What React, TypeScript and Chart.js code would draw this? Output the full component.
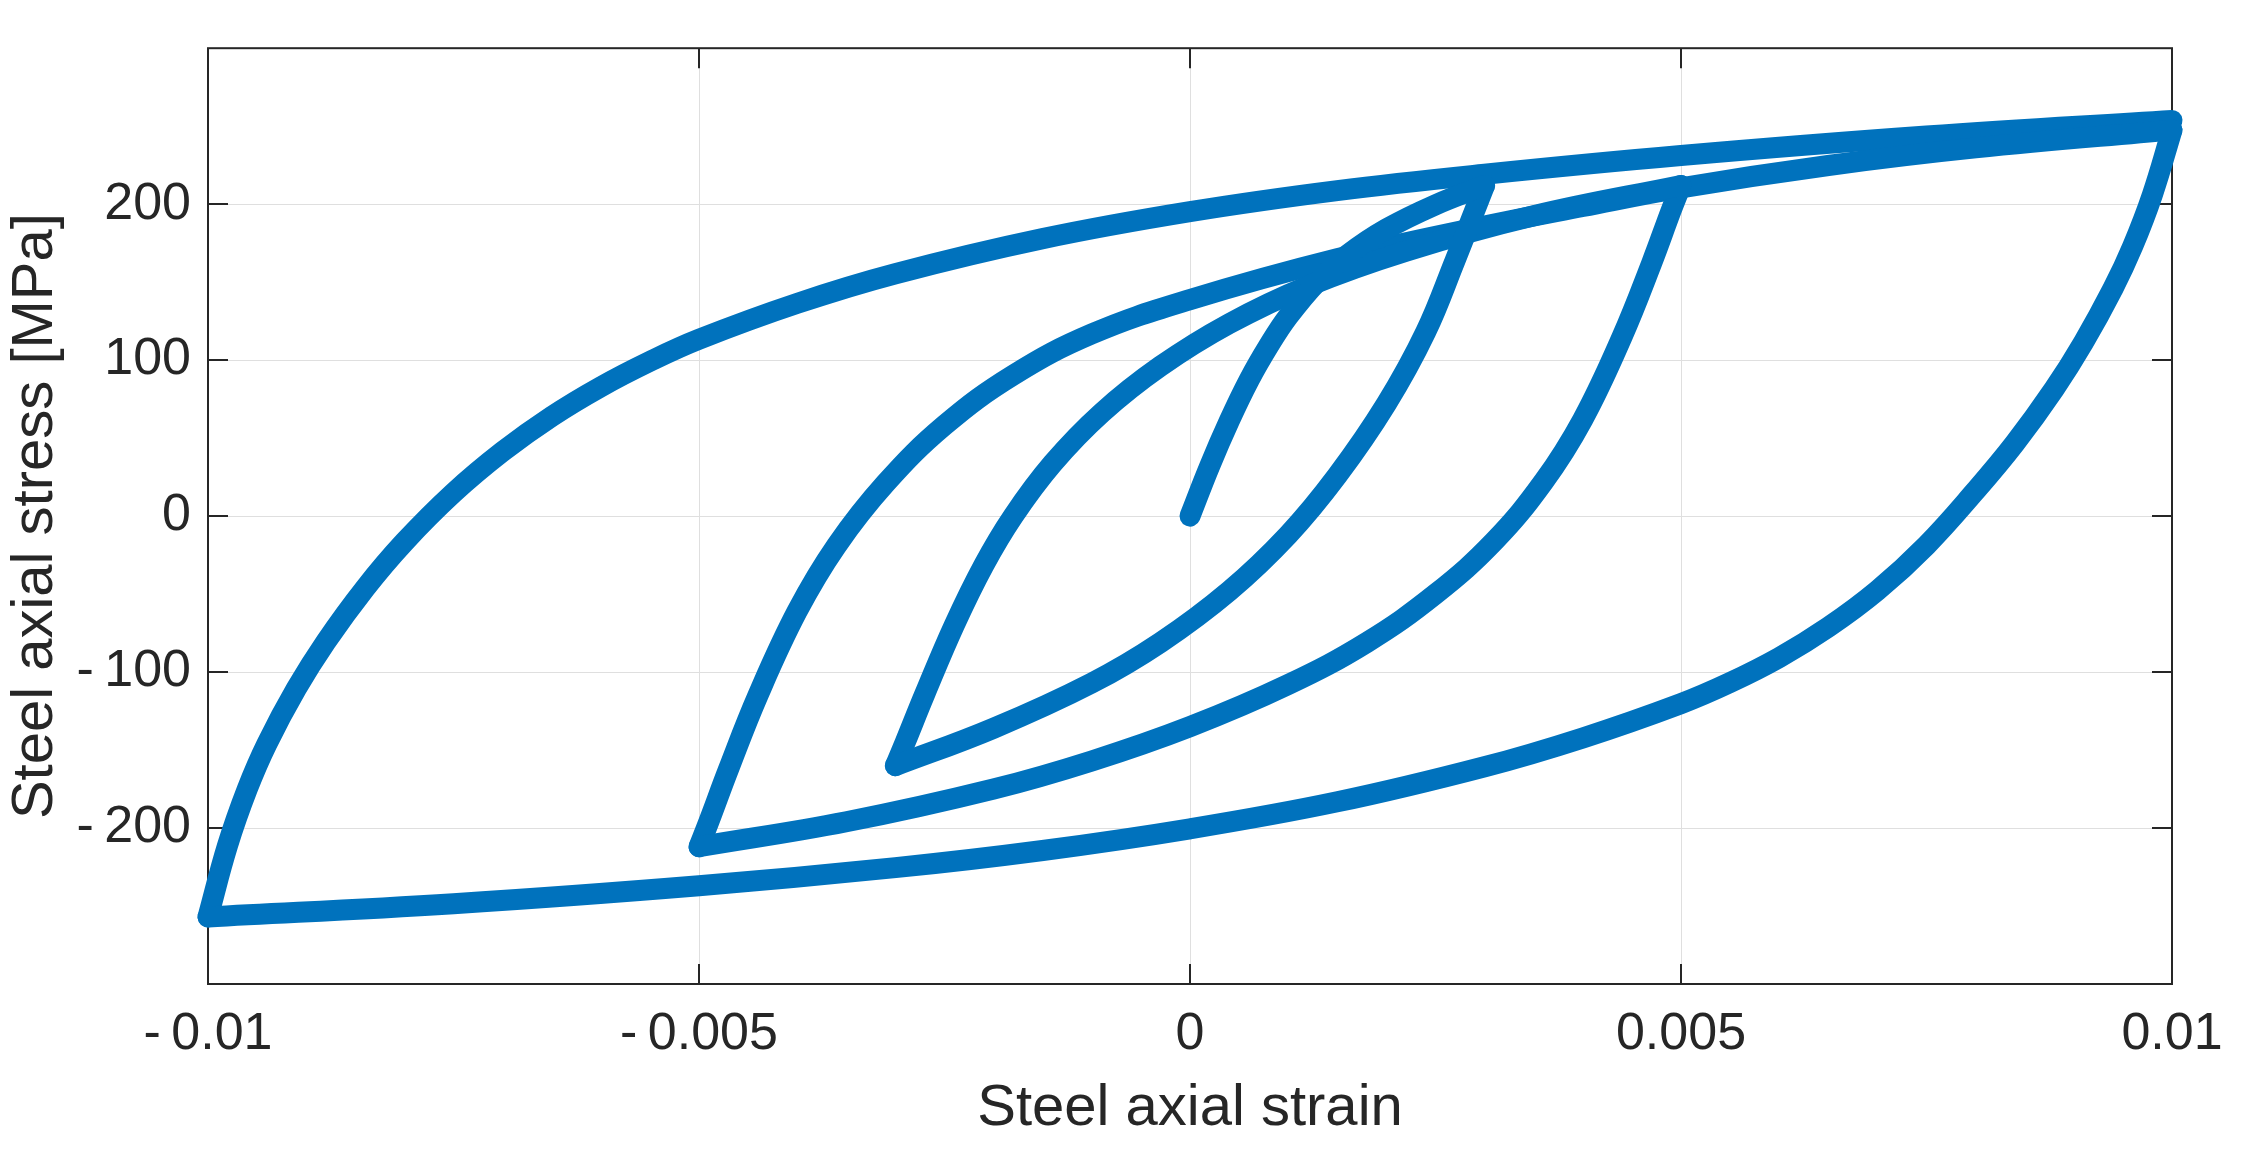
import React, { useEffect, useRef } from "react";
import { Chart, registerables } from "chart.js";

Chart.register(...registerables);

// ---- Data (strain [-], stress [MPa]) ----
// A: virgin loading 0 -> 0.003
const A_STRAIN = [0, 0.0002, 0.0004, 0.0006, 0.0008, 0.001, 0.0013, 0.0016, 0.002, 0.0025, 0.003];
const A_STRESS = [0, 32, 61, 87, 109, 128, 150.5, 167.3, 184.1, 199.6, 212];

// B: unloading 0.003 -> -0.003
const B_STRAIN = [0.003, 0.0029, 0.0027, 0.0024, 0.002, 0.0015, 0.001, 0.0004, -0.0003, -0.001, -0.002, -0.003];
const B_STRESS = [212, 196, 164, 118, 72, 26, -12, -48, -81, -107, -136, -160];

// C: reloading -0.003 -> 0.005
const C_STRAIN = [-0.003, -0.0029, -0.0027, -0.0024, -0.0021, -0.0018, -0.0014, -0.0009, -0.0003, 0.0004, 0.0012, 0.0022, 0.0035, 0.005];
const C_STRESS = [-160, -145, -114, -69.9, -31.5, 0, 33.6, 66.1, 96.1, 123.4, 147.4, 169.9, 192.6, 212];

// D: unloading 0.005 -> -0.005
const D_STRAIN = [0.005, 0.0049, 0.0047, 0.0044, 0.004, 0.0036, 0.0031, 0.0025, 0.0018, 0.001, 0, -0.001, -0.002, -0.0035, -0.005];
const D_STRESS = [212, 196, 162, 115, 62, 22, -16, -50, -81, -108, -135, -157, -175, -196, -212];

// E: reloading -0.005 -> 0.01
const E_STRAIN = [-0.005, -0.0049, -0.0047, -0.0044, -0.004, -0.0036, -0.0031, -0.0025, -0.0018, -0.001, 0, 0.0015, 0.003, 0.004, 0.005, 0.0065, 0.008, 0.01];
const E_STRESS = [-212, -196, -162.4, -115, -61, -19, 21, 58.2, 90.4, 116.8, 138.8, 165, 186, 198.5, 210.5, 224.8, 236.1, 247.5];

// F: unloading 0.01 -> -0.01
const F_STRAIN = [0.01, 0.0098, 0.0096, 0.0094, 0.0091, 0.0088, 0.0084, 0.008, 0.0075, 0.007, 0.0065, 0.006, 0.0055, 0.005, 0.004, 0.003, 0.0015, 0, -0.0015, -0.003, -0.005, -0.0075, -0.01];
const F_STRESS = [247.5, 206, 173, 146, 111.5, 81.5, 46.7, 16.3, -18.7, -47.7, -71.2, -90.7, -106.7, -120.2, -142.2, -160.7, -183.2, -200.5, -214.4, -225.4, -237, -248.5, -257];

// G: reloading -0.01 -> 0.01
const G_STRAIN = [-0.01, -0.0098, -0.0096, -0.0094, -0.0091, -0.0088, -0.0084, -0.008, -0.0075, -0.007, -0.0065, -0.006, -0.0055, -0.005, -0.004, -0.003, -0.0015, 0, 0.0015, 0.003, 0.005, 0.0075, 0.01];
const G_STRESS = [-257, -211, -175, -146, -110.6, -80.6, -46.2, -16.6, 14.9, 41.4, 63.9, 82.9, 99.2, 113.4, 136.4, 155.4, 177.9, 195.2, 208.7, 219.2, 231.2, 243.7, 253.7];

// ---- Axes ----
const X_TICKS = [-0.01, -0.005, 0, 0.005, 0.01];
const X_TICK_LABELS = ["-\u20090.01", "-\u20090.005", "0", "0.005", "0.01"];
const Y_TICKS = [-200, -100, 0, 100, 200];
const Y_TICK_LABELS = ["-\u2009200", "-\u2009100", "0", "100", "200"];
const X_RANGE = [-0.01, 0.01];
const Y_RANGE = [-300, 300];
const X_TITLE = "Steel axial strain";
const Y_TITLE = "Steel axial stress [MPa]";

const BRANCHES = [
  [A_STRAIN, A_STRESS],
  [B_STRAIN, B_STRESS],
  [C_STRAIN, C_STRESS],
  [D_STRAIN, D_STRESS],
  [E_STRAIN, E_STRESS],
  [F_STRAIN, F_STRESS],
  [G_STRAIN, G_STRESS],
];

const FONT = "'Liberation Sans', Arial, Helvetica, sans-serif";
const INK = "#262626";
const LINE = "#0072BD";

const boxPlugin = {
  id: "matlabBox",
  beforeDatasetsDraw(chart: any) {
    const { ctx, chartArea, scales } = chart;
    const { left, right, top, bottom } = chartArea;
    const tl = 20;
    ctx.save();
    ctx.strokeStyle = INK;
    ctx.lineWidth = 2;
    ctx.strokeRect(left, top, right - left, bottom - top);
    ctx.beginPath();
    X_TICKS.forEach((v) => {
      const px = Math.round(scales.x.getPixelForValue(v));
      ctx.moveTo(px, bottom);
      ctx.lineTo(px, bottom - tl);
      ctx.moveTo(px, top);
      ctx.lineTo(px, top + tl);
    });
    Y_TICKS.forEach((v) => {
      const py = Math.round(scales.y.getPixelForValue(v));
      ctx.moveTo(left, py);
      ctx.lineTo(left + tl, py);
      ctx.moveTo(right, py);
      ctx.lineTo(right - tl, py);
    });
    ctx.stroke();
    ctx.restore();
  },
};

export default function App() {
  const canvasRef = useRef<HTMLCanvasElement | null>(null);

  useEffect(() => {
    document.body.style.margin = "0";
    const canvas = canvasRef.current;
    if (!canvas) return;

    const datasets = BRANCHES.map(([strain, stress], i) => ({
      label: "branch" + i,
      data: strain.map((s, k) => ({ x: s, y: stress[k] })),
      borderColor: LINE,
      backgroundColor: LINE,
      borderWidth: 21,
      borderCapStyle: "round",
      borderJoinStyle: "round",
      pointRadius: 0,
      pointHoverRadius: 0,
      tension: 0.4,
      capBezierPoints: false,
      fill: false,
      clip: false,
    }));

    const chart = new Chart(canvas, {
      type: "line",
      data: { datasets } as any,
      plugins: [boxPlugin],
      options: {
        responsive: false,
        devicePixelRatio: 1,
        animation: false,
        events: [],
        layout: { padding: { top: 29, right: 70, left: 0, bottom: 0 } },
        plugins: { legend: { display: false }, tooltip: { enabled: false } },
        scales: {
          x: {
            type: "linear",
            min: X_RANGE[0],
            max: X_RANGE[1],
            afterBuildTicks: (scale: any) => {
              scale.ticks = X_TICKS.map((v) => ({ value: v }));
            },
            afterFit: (scale: any) => {
              scale.height = 167;
            },
            ticks: {
              autoSkip: false,
              maxRotation: 0,
              minRotation: 0,
              padding: 19,
              color: INK,
              font: { family: FONT, size: 52 },
              callback: (value: any) => {
                const i = X_TICKS.findIndex((t) => Math.abs(t - Number(value)) < 1e-9);
                return i >= 0 ? X_TICK_LABELS[i] : "";
              },
            },
            grid: { color: "#dfdfdf", lineWidth: 1, drawTicks: false },
            border: { display: false },
            title: {
              display: true,
              text: X_TITLE,
              color: INK,
              font: { family: FONT, size: 58 },
              padding: { top: 0, bottom: 7 },
            },
          },
          y: {
            type: "linear",
            min: Y_RANGE[0],
            max: Y_RANGE[1],
            afterBuildTicks: (scale: any) => {
              scale.ticks = Y_TICKS.map((v) => ({ value: v }));
            },
            afterFit: (scale: any) => {
              scale.width = 208;
            },
            ticks: {
              autoSkip: false,
              padding: 17,
              color: INK,
              font: { family: FONT, size: 52 },
              callback: (value: any) => {
                const i = Y_TICKS.findIndex((t) => Math.abs(t - Number(value)) < 1e-9);
                return i >= 0 ? Y_TICK_LABELS[i] : "";
              },
            },
            grid: { color: "#dfdfdf", lineWidth: 1, drawTicks: false },
            border: { display: false },
            title: {
              display: true,
              text: Y_TITLE,
              color: INK,
              font: { family: FONT, size: 58 },
              padding: { top: 1, bottom: 0 },
            },
          },
        },
      } as any,
    });

    return () => chart.destroy();
  }, []);

  return (
    <div style={{ width: 2242, height: 1151, background: "#fff" }}>
      <canvas ref={canvasRef} width={2242} height={1151} style={{ display: "block" }} />
    </div>
  );
}
